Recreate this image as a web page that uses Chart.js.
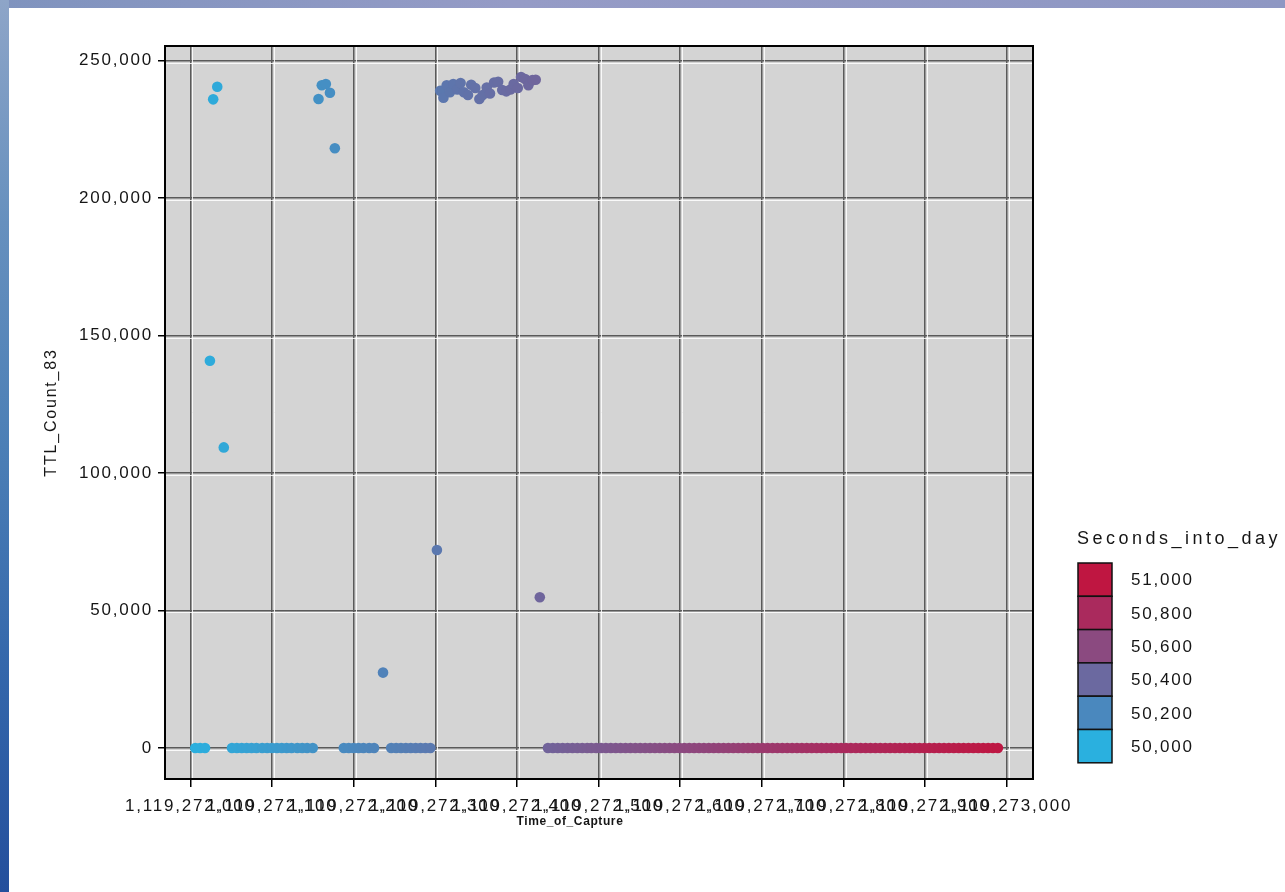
<!DOCTYPE html>
<html>
<head>
<meta charset="utf-8">
<title>TTL_Count_83 by Time_of_Capture</title>
<script src="https://cdn.jsdelivr.net/npm/chart.js@4.4.0/dist/chart.umd.min.js"></script>
<style>
  html, body { margin: 0; padding: 0; }
  body { width: 1285px; height: 892px; position: relative; overflow: hidden; background: #ffffff; }
  #topStrip { position: absolute; left: 0; top: 0; width: 1285px; height: 8px; background: linear-gradient(to right, #7f93be, #959bc6 40%, #8e97c3); }
  #leftStrip { position: absolute; left: 0; top: 0; width: 9px; height: 892px; background: linear-gradient(to bottom, #8ea5c8, #6690be 25%, #4c7fb6 50%, #3467ab 75%, #244f9c); }
  #chartCanvas { position: absolute; left: 0; top: 0; }
</style>
</head>
<body>
<div id="topStrip"></div>
<div id="leftStrip"></div>
<canvas id="chartCanvas" width="1285" height="892"></canvas>
<script>
// Time_of_Capture (epoch seconds) and TTL_Count_83
const captureTimes = [
    1119272006, 1119272012, 1119272018, 1119272024, 1119272028, 1119272033, 1119272041, 1119272051, 1119272057, 1119272063,
    1119272069, 1119272075, 1119272081, 1119272088, 1119272094, 1119272100, 1119272106, 1119272112, 1119272118, 1119272124,
    1119272131, 1119272137, 1119272143, 1119272150, 1119272157, 1119272161, 1119272166, 1119272171, 1119272177, 1119272188,
    1119272194, 1119272200, 1119272206, 1119272212, 1119272219, 1119272225, 1119272236, 1119272246, 1119272252, 1119272258,
    1119272264, 1119272270, 1119272276, 1119272282, 1119272288, 1119272294, 1119272302, 1119272306, 1119272310, 1119272314,
    1119272318, 1119272322, 1119272327, 1119272331, 1119272335, 1119272340, 1119272344, 1119272349, 1119272354, 1119272358,
    1119272363, 1119272367, 1119272372, 1119272377, 1119272382, 1119272387, 1119272392, 1119272396, 1119272401, 1119272405,
    1119272410, 1119272414, 1119272419, 1119272423, 1119272428, 1119272438, 1119272444, 1119272450, 1119272456, 1119272462,
    1119272468, 1119272474, 1119272480, 1119272486, 1119272491, 1119272497, 1119272503, 1119272509, 1119272515, 1119272521,
    1119272527, 1119272533, 1119272539, 1119272545, 1119272551, 1119272557, 1119272563, 1119272569, 1119272575, 1119272581,
    1119272587, 1119272593, 1119272599, 1119272605, 1119272611, 1119272617, 1119272623, 1119272629, 1119272635, 1119272641,
    1119272647, 1119272653, 1119272659, 1119272665, 1119272671, 1119272677, 1119272683, 1119272689, 1119272695, 1119272701,
    1119272707, 1119272713, 1119272719, 1119272725, 1119272731, 1119272737, 1119272743, 1119272749, 1119272755, 1119272761,
    1119272767, 1119272773, 1119272779, 1119272785, 1119272791, 1119272797, 1119272803, 1119272809, 1119272815, 1119272821,
    1119272827, 1119272833, 1119272839, 1119272845, 1119272851, 1119272857, 1119272863, 1119272869, 1119272875, 1119272881,
    1119272887, 1119272893, 1119272899, 1119272905, 1119272911, 1119272917, 1119272923, 1119272929, 1119272935, 1119272941,
    1119272947, 1119272953, 1119272959, 1119272965, 1119272971, 1119272977, 1119272983, 1119272989
];
const ttlCounts = [
    0, 0, 0, 140800, 235900, 240500, 109300, 0, 0, 0,
    0, 0, 0, 0, 0, 0, 0, 0, 0, 0,
    0, 0, 0, 0, 236000, 241000, 241500, 238300, 218100, 0,
    0, 0, 0, 0, 0, 0, 27400, 0, 0, 0,
    0, 0, 0, 0, 0, 0, 72000, 239000, 236500, 241000,
    238500, 241500, 239500, 241800, 238500, 237500, 241200, 240000, 236000, 237500,
    240200, 238000, 242000, 242300, 239300, 238800, 239500, 241500, 240000, 244000,
    243300, 241000, 242900, 243000, 54800, 0, 0, 0, 0, 0,
    0, 0, 0, 0, 0, 0, 0, 0, 0, 0,
    0, 0, 0, 0, 0, 0, 0, 0, 0, 0,
    0, 0, 0, 0, 0, 0, 0, 0, 0, 0,
    0, 0, 0, 0, 0, 0, 0, 0, 0, 0,
    0, 0, 0, 0, 0, 0, 0, 0, 0, 0,
    0, 0, 0, 0, 0, 0, 0, 0, 0, 0,
    0, 0, 0, 0, 0, 0, 0, 0, 0, 0,
    0, 0, 0, 0, 0, 0, 0, 0, 0, 0,
    0, 0, 0, 0, 0, 0, 0, 0
];

// Axis ticks
const xTickValues = [1119272000, 1119272100, 1119272200, 1119272300, 1119272400, 1119272500,
                     1119272600, 1119272700, 1119272800, 1119272900, 1119273000];
const yTickValues = [0, 50000, 100000, 150000, 200000, 250000];

// Colour scale for Seconds_into_day (top to bottom as in the legend)
const legendValues = [51000, 50800, 50600, 50400, 50200, 50000];
const legendColors = ['#bf1641', '#aa2a5d', '#8b4a80', '#6b69a0', '#4a88be', '#2ab0df'];
const dayStart = 1119222000; // epoch seconds at local midnight of that day

const FONT = '"Liberation Sans", Arial, sans-serif';
const TEXT = '#151515';

function hexToRgb(h) {
    return [parseInt(h.slice(1, 3), 16), parseInt(h.slice(3, 5), 16), parseInt(h.slice(5, 7), 16)];
}

function colorForSeconds(s) {
    const vals = legendValues.slice().reverse();
    const cols = legendColors.slice().reverse().map(hexToRgb);
    if (s <= vals[0]) return `rgb(${cols[0].join(',')})`;
    for (let i = 0; i < vals.length - 1; i++) {
        if (s <= vals[i + 1]) {
            const f = (s - vals[i]) / (vals[i + 1] - vals[i]);
            const c = cols[i].map((v, k) => Math.round(v + (cols[i + 1][k] - v) * f));
            return `rgb(${c.join(',')})`;
        }
    }
    return `rgb(${cols[cols.length - 1].join(',')})`;
}

// x title is drawn a little narrower and left of centre, like the original
function patchXTitle(scale) {
    if (scale._titlePatched) return;
    const drawTitle = scale.drawTitle;
    scale.drawTitle = function () {
        const ctx = this.ctx;
        ctx.save();
        ctx.letterSpacing = '0.6px';
        ctx.translate(-29, 0);
        drawTitle.call(this);
        ctx.restore();
    };
    scale._titlePatched = true;
}

// Grey plot panel, white grid highlights and black frame
const framePlugin = {
    id: 'frame',
    beforeDraw(chart) {
        const { ctx, chartArea: a } = chart;
        ctx.letterSpacing = '1.8px';
        ctx.save();
        ctx.fillStyle = '#d4d4d4';
        ctx.fillRect(a.left, a.top, a.right - a.left, a.bottom - a.top);
        ctx.restore();
    },
    beforeDatasetsDraw(chart) {
        const { ctx, chartArea: a, scales: { x, y } } = chart;
        ctx.save();
        ctx.strokeStyle = 'rgba(255,255,255,0.85)';
        ctx.lineWidth = 1;
        ctx.beginPath();
        xTickValues.forEach(v => {
            const px = Math.round(x.getPixelForValue(v)) + 2.5;
            ctx.moveTo(px, a.top);
            ctx.lineTo(px, a.bottom);
        });
        yTickValues.forEach(v => {
            const py = Math.round(y.getPixelForValue(v)) + 2.5;
            ctx.moveTo(a.left, py);
            ctx.lineTo(a.right, py);
        });
        ctx.stroke();
        ctx.restore();
    },
    afterDraw(chart) {
        const { ctx, chartArea: a } = chart;
        ctx.save();
        ctx.strokeStyle = '#000';
        ctx.lineWidth = 2;
        ctx.strokeRect(a.left, a.top, a.right - a.left, a.bottom - a.top);
        ctx.restore();
    }
};

// Seconds_into_day colour legend on the right
const colorScalePlugin = {
    id: 'colorScale',
    afterDraw(chart) {
        const ctx = chart.ctx;
        const left = 1078, top = 563, w = 34, h = 33.3;
        ctx.save();
        ctx.textAlign = 'left';
        ctx.textBaseline = 'middle';
        ctx.fillStyle = TEXT;
        ctx.letterSpacing = '3.5px';
        ctx.font = '18px ' + FONT;
        ctx.fillText('Seconds_into_day', 1077, 539);
        ctx.letterSpacing = '1.8px';
        ctx.font = '17px ' + FONT;
        legendValues.forEach((v, i) => {
            const y0 = top + i * h;
            ctx.fillStyle = legendColors[i];
            ctx.fillRect(left, y0, w, h);
            ctx.strokeStyle = '#111';
            ctx.lineWidth = 1.5;
            ctx.strokeRect(left, y0, w, h);
            ctx.fillStyle = TEXT;
            ctx.fillText(v.toLocaleString('en-US'), 1131, y0 + h / 2 + 1);
        });
        ctx.restore();
    }
};

const points = captureTimes.map((t, i) => ({ x: t, y: ttlCounts[i] }));

new Chart(document.getElementById('chartCanvas'), {
    type: 'scatter',
    data: {
        datasets: [{
            label: 'TTL_Count_83',
            data: points,
            pointRadius: 5.3,
            pointHoverRadius: 5.3,
            pointBorderWidth: 0,
            borderWidth: 0,
            backgroundColor: ctx => ctx.raw ? colorForSeconds(ctx.raw.x - dayStart) : '#888'
        }]
    },
    options: {
        responsive: false,
        animation: false,
        layout: { padding: { top: 46, right: 252, bottom: 0, left: 0 } },
        plugins: {
            legend: { display: false },
            tooltip: { enabled: false }
        },
        scales: {
            x: {
                type: 'linear',
                min: 1119271969,
                max: 1119273032,
                afterBuildTicks: s => { s.ticks = xTickValues.map(v => ({ value: v })); },
                afterFit: s => { s.height = 113; patchXTitle(s); },
                ticks: {
                    autoSkip: false,
                    maxRotation: 0,
                    minRotation: 0,
                    padding: 9,
                    color: TEXT,
                    font: { family: FONT, size: 17 },
                    callback: v => v.toLocaleString('en-US')
                },
                grid: { color: '#5a5a5a', lineWidth: 1.5, tickLength: 8, tickColor: '#000', tickWidth: 1.5 },
                border: { color: '#000', width: 2 },
                title: {
                    display: true,
                    text: 'Time_of_Capture',
                    color: TEXT,
                    font: { family: FONT, size: 12, weight: 'bold' },
                    padding: { top: 0, bottom: 63 }
                }
            },
            y: {
                min: -11300,
                max: 255300,
                afterBuildTicks: s => { s.ticks = yTickValues.map(v => ({ value: v })); },
                afterFit: s => { s.width = 165; },
                ticks: {
                    padding: 5,
                    color: TEXT,
                    font: { family: FONT, size: 17 },
                    callback: v => v.toLocaleString('en-US')
                },
                grid: { color: '#5a5a5a', lineWidth: 1.5, tickLength: 7, tickColor: '#000', tickWidth: 1.5 },
                border: { color: '#000', width: 2 },
                title: {
                    display: true,
                    text: 'TTL_Count_83',
                    color: TEXT,
                    font: { family: FONT, size: 16 },
                    padding: { top: 42, bottom: 0 }
                }
            }
        }
    },
    plugins: [framePlugin, colorScalePlugin]
});
</script>
</body>
</html>
